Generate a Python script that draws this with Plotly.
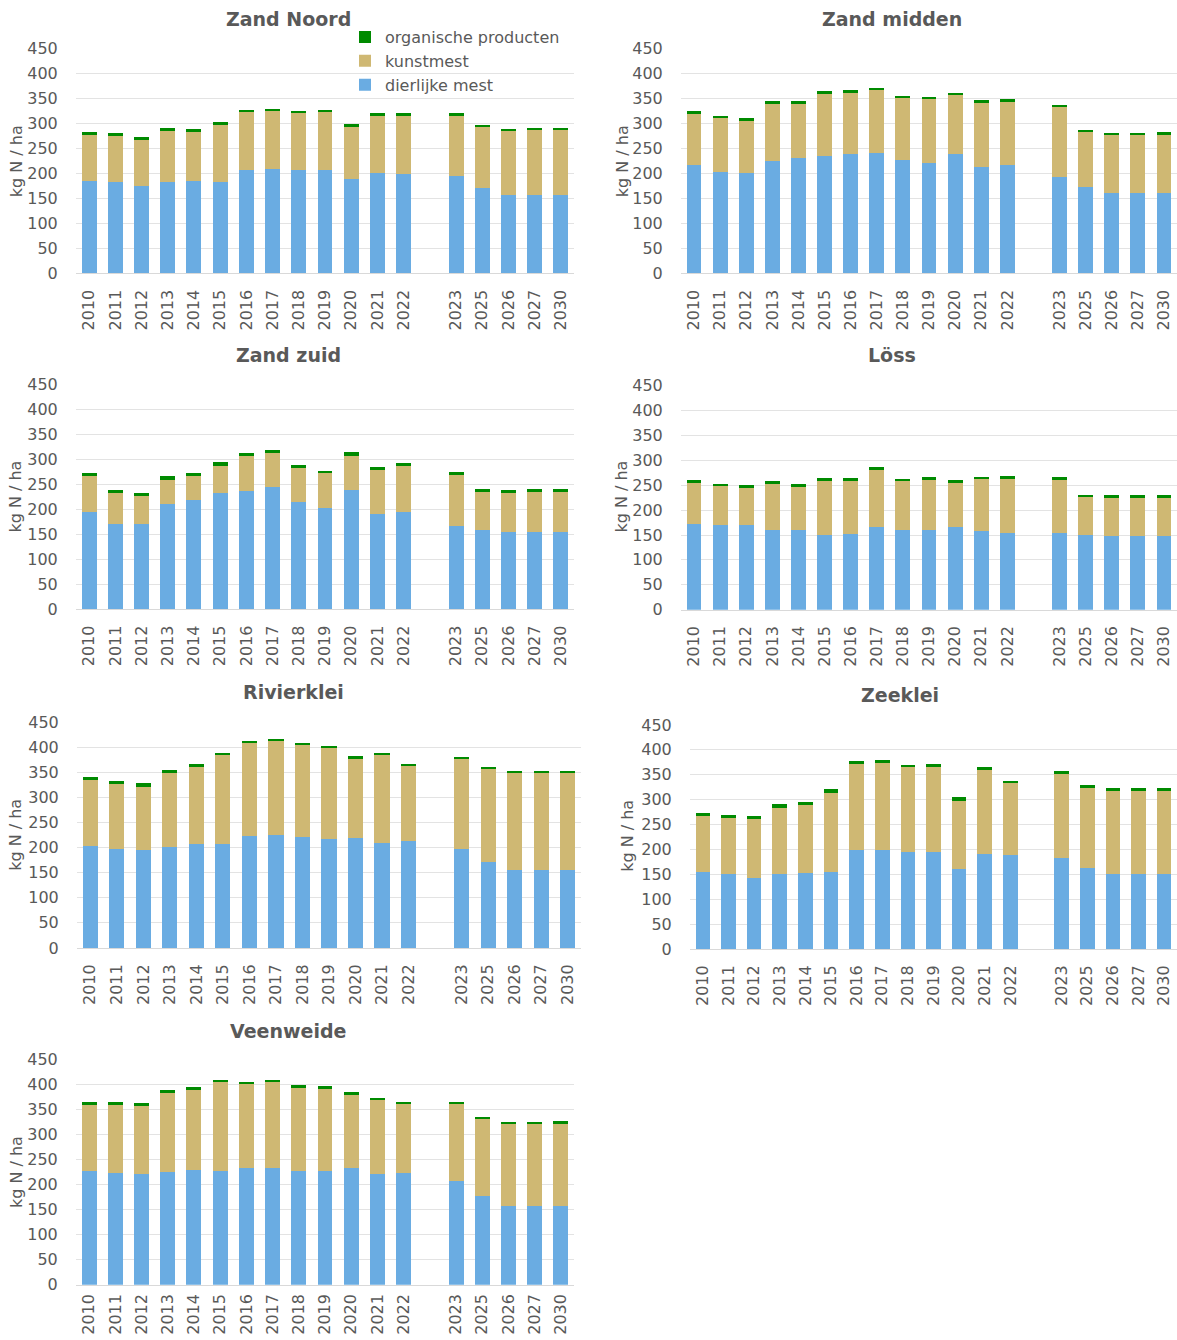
import plotly.graph_objects as go

# ---------------- data ----------------
years = ["2010", "2011", "2012", "2013", "2014", "2015", "2016", "2017", "2018",
         "2019", "2020", "2021", "2022", "2023", "2025", "2026", "2027", "2030"]
gap_label = " "
axis_categories = years[:13] + [gap_label] + years[13:]

series_names = ["dierlijke mest", "kunstmest", "organische producten"]
panel_titles = ["Zand Noord", "Zand midden", "Zand zuid", "Löss", "Rivierklei", "Zeeklei", "Veenweide"]
y_title = "kg N / ha"

zn_dierlijk = [185, 183, 174, 182, 185, 183, 207, 208, 206, 206, 189, 200, 199, 194, 171, 157, 157, 157]
zn_kunst = [92, 92, 92, 103, 97, 113, 115, 118, 114, 116, 104, 115, 116, 121, 121, 128, 129, 129]
zn_organisch = [5, 5, 6, 5, 6, 6, 4, 3, 4, 4, 6, 5, 5, 5, 4, 4, 4, 4]

zm_dierlijk = [217, 203, 201, 225, 231, 235, 238, 241, 227, 221, 239, 213, 217, 193, 173, 161, 161, 161]
zm_kunst = [102, 107, 103, 114, 108, 124, 123, 125, 124, 128, 117, 128, 126, 140, 110, 116, 116, 116]
zm_organisch = [5, 5, 6, 6, 6, 5, 6, 4, 4, 3, 5, 5, 5, 4, 4, 4, 4, 5]

zz_dierlijk = [194, 171, 171, 210, 218, 232, 236, 245, 215, 202, 238, 190, 194, 167, 159, 155, 155, 155]
zz_kunst = [73, 61, 55, 49, 48, 55, 72, 69, 69, 70, 69, 89, 94, 102, 75, 77, 79, 79]
zz_organisch = [6, 7, 6, 8, 6, 9, 5, 5, 5, 5, 8, 6, 6, 6, 6, 6, 6, 6]

lo_dierlijk = [172, 170, 170, 160, 160, 150, 153, 167, 160, 160, 166, 159, 154, 155, 150, 148, 148, 148]
lo_kunst = [83, 78, 74, 92, 86, 108, 106, 113, 98, 101, 88, 103, 109, 105, 76, 76, 76, 76]
lo_organisch = [6, 5, 6, 7, 6, 6, 5, 6, 5, 5, 7, 5, 5, 6, 5, 6, 6, 6]

rk_dierlijk = [204, 198, 195, 202, 207, 208, 223, 225, 220, 217, 219, 209, 213, 197, 172, 156, 156, 156]
rk_kunst = [131, 129, 126, 146, 153, 176, 185, 187, 184, 182, 157, 175, 151, 179, 185, 193, 193, 193]
rk_organisch = [5, 6, 7, 7, 6, 5, 4, 4, 4, 4, 7, 4, 3, 4, 4, 4, 4, 4]

zk_dierlijk = [154, 150, 142, 150, 152, 154, 198, 199, 195, 195, 160, 191, 189, 182, 162, 150, 150, 150]
zk_kunst = [114, 114, 119, 134, 137, 160, 174, 175, 170, 171, 138, 169, 145, 170, 162, 168, 168, 168]
zk_organisch = [6, 6, 7, 7, 7, 7, 5, 5, 5, 5, 8, 5, 4, 5, 6, 6, 6, 6]

vw_dierlijk = [228, 224, 222, 226, 230, 227, 234, 233, 227, 227, 234, 222, 224, 208, 177, 158, 158, 158]
vw_kunst = [132, 136, 136, 157, 159, 178, 167, 172, 167, 165, 146, 148, 137, 153, 154, 164, 164, 164]
vw_organisch = [6, 6, 6, 7, 7, 4, 4, 4, 5, 5, 5, 4, 4, 4, 3, 4, 4, 5]

panel_data = [
    (zn_dierlijk, zn_kunst, zn_organisch),
    (zm_dierlijk, zm_kunst, zm_organisch),
    (zz_dierlijk, zz_kunst, zz_organisch),
    (lo_dierlijk, lo_kunst, lo_organisch),
    (rk_dierlijk, rk_kunst, rk_organisch),
    (zk_dierlijk, zk_kunst, zk_organisch),
    (vw_dierlijk, vw_kunst, vw_organisch),
]

# ---------------- layout geometry (pixels) ----------------
W, H = 1177, 1340


def vy(p):
    # vertical placement in page pixels, tuned so the photographed page lines up
    return (p - 9.85) / 0.985


# (x_left, x_right, y_top(450), y_bottom(0)) in target pixels
panel_boxes = [
    (76, 574, vy(49), vy(274)),
    (681, 1177, vy(49), vy(274)),
    (76, 574, vy(385), vy(609.5)),
    (681, 1177, vy(386), vy(610)),
    (77, 581, vy(722), vy(948)),
    (690, 1177, vy(725), vy(949)),
    (76, 574, 1294 - 225 / 0.985, 1294),
]
x_ticklens = [9, 9, 9, 9, 9, 9, 2]
title_pos = [(288, 20), (892, 20), (288, 356), (892, 356), (293, 692), (900, 695), (288, 1031)]
ytitle_pos = [(16, 162), (622, 162), (16, 497), (622, 497), (16, 835), (628, 836), (16, 1172)]

colors = ["#6AACE2", "#CFB873", "#008A00"]
GRAY = "#595959"
FONT = "DejaVu Sans"

fig = go.Figure()
annotations = []
layout_axes = {}

for i, (vals, box) in enumerate(zip(panel_data, panel_boxes)):
    n = "" if i == 0 else str(i + 1)
    xa, ya = "x" + n, "y" + n
    for s, (name, v, c) in enumerate(zip(series_names, vals, colors)):
        fig.add_trace(go.Bar(
            x=years, y=v, name=name, marker=dict(color=c, line=dict(width=0)),
            xaxis=xa, yaxis=ya, showlegend=(i == 0), legendgroup=name,
        ))
    x0, x1, yt, yb = box
    layout_axes["xaxis" + n] = dict(
        domain=[x0 / W, min(x1 / W, 1.0)], anchor=ya, type="category",
        categoryorder="array", categoryarray=axis_categories,
        tickangle=-90, tickfont=dict(size=16, color=GRAY, family=FONT),
        showgrid=False, showline=True, linecolor="#D9D9D9", linewidth=1,
        ticks="outside", ticklen=x_ticklens[i], tickcolor="rgba(0,0,0,0)",
        range=[-0.5, len(axis_categories) - 0.5],
    )
    layout_axes["yaxis" + n] = dict(
        domain=[1 - yb / H, 1 - yt / H], anchor=xa, range=[0, 450.5],
        tick0=0, dtick=50, gridcolor="#E3E3E3", gridwidth=1,
        zeroline=False, showline=False,
        tickfont=dict(size=16, color=GRAY, family=FONT),
        ticks="outside", ticklen=14, tickcolor="rgba(0,0,0,0)",
    )
    tx, ty = title_pos[i]
    annotations.append(dict(
        text="<b>" + panel_titles[i] + "</b>", x=tx / W, y=1 - vy(ty) / H,
        xref="paper", yref="paper", xanchor="center", yanchor="middle",
        showarrow=False, font=dict(size=19, color=GRAY, family=FONT),
    ))
    yx, yy = ytitle_pos[i]
    annotations.append(dict(
        text=y_title, x=yx / W, y=1 - vy(yy) / H, textangle=-90,
        xref="paper", yref="paper", xanchor="center", yanchor="middle",
        showarrow=False, font=dict(size=16, color=GRAY, family=FONT),
    ))

fig.update_layout(
    width=W, height=H, margin=dict(l=0, r=0, t=0, b=0),
    paper_bgcolor="white", plot_bgcolor="white",
    barmode="stack", bargap=0.43,
    font=dict(family=FONT, color=GRAY, size=16),
    legend=dict(
        x=345 / W, y=1 - vy(21) / H, xanchor="left", yanchor="top",
        traceorder="reversed", bgcolor="rgba(0,0,0,0)",
        font=dict(size=16, color=GRAY, family=FONT),
        tracegroupgap=0, itemwidth=30,
    ),
    annotations=annotations,
    **layout_axes,
)

fig.write_html(
    "out.html",
    config={"displayModeBar": False},
    post_script="document.body.style.margin='0';document.body.style.overflow='hidden';",
)
